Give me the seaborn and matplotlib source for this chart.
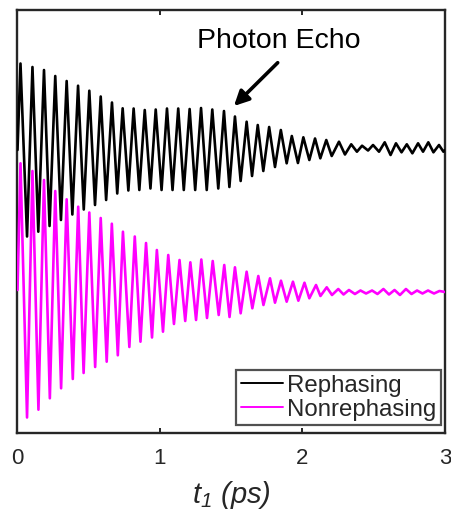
import matplotlib
matplotlib.use("Agg")
import matplotlib.pyplot as plt
import seaborn as sns
import pandas as pd

# Turning points of each trace: delay t1 (ps) and signal (arb. units)
reph_t = [0.000, 0.021, 0.067, 0.105, 0.146, 0.186, 0.225, 0.265, 0.305, 0.345,
          0.385, 0.425, 0.465, 0.504, 0.544, 0.584, 0.622, 0.663, 0.700, 0.738,
          0.778, 0.815, 0.855, 0.893, 0.933, 0.970, 1.011, 1.049, 1.088, 1.128,
          1.167, 1.208, 1.247, 1.288, 1.328, 1.367, 1.409, 1.449, 1.487, 1.526,
          1.566, 1.608, 1.646, 1.686, 1.725, 1.766, 1.807, 1.848, 1.889, 1.925,
          1.968, 2.006, 2.048, 2.088, 2.125, 2.167, 2.205, 2.256, 2.298, 2.342,
          2.382, 2.418, 2.460, 2.495, 2.537, 2.577, 2.618, 2.656, 2.695, 2.732,
          2.771, 2.811, 2.846, 2.883, 2.919, 2.958, 2.989, 3.000]
reph_s = [0.00, 0.865, -0.865, 0.83, -0.817, 0.80, -0.76, 0.74, -0.70, 0.69,
          -0.645, 0.643, -0.595, 0.593, -0.55, 0.535, -0.50, 0.475, -0.435, 0.417,
          -0.405, 0.415, -0.40, 0.40, -0.385, 0.405, -0.40, 0.415, -0.40, 0.415,
          -0.40, 0.41, -0.40, 0.42, -0.40, 0.405, -0.385, 0.39, -0.37, 0.335,
          -0.31, 0.283, -0.26, 0.25, -0.21, 0.23, -0.17, 0.20, -0.133, 0.14,
          -0.13, 0.127, -0.10, 0.115, -0.083, 0.10, -0.06, 0.083, -0.045, 0.057,
          -0.017, 0.043, -0.005, 0.05, -0.017, 0.077, -0.05, 0.067, -0.023, 0.057,
          -0.033, 0.067, -0.017, 0.077, -0.023, 0.05, -0.017, 0.00]

nonreph_t = [0.000, 0.021, 0.067, 0.105, 0.147, 0.186, 0.227, 0.265, 0.306, 0.345,
             0.388, 0.426, 0.464, 0.504, 0.545, 0.584, 0.626, 0.662, 0.704, 0.740,
             0.785, 0.823, 0.863, 0.902, 0.944, 0.978, 1.021, 1.058, 1.098, 1.137,
             1.177, 1.213, 1.253, 1.290, 1.330, 1.370, 1.412, 1.451, 1.488, 1.526,
             1.566, 1.608, 1.648, 1.690, 1.726, 1.772, 1.807, 1.849, 1.889, 1.933,
             1.971, 2.014, 2.048, 2.095, 2.126, 2.170, 2.207, 2.251, 2.288, 2.326,
             2.368, 2.407, 2.446, 2.488, 2.526, 2.568, 2.607, 2.646, 2.684, 2.726,
             2.765, 2.804, 2.842, 2.881, 2.923, 2.961, 3.000]
nonreph_s = [0.02, 1.287, -1.255, 1.21, -1.177, 1.12, -1.063, 1.01, -0.963, 0.927,
             -0.87, 0.853, -0.81, 0.795, -0.75, 0.74, -0.697, 0.683, -0.633, 0.603,
             -0.55, 0.555, -0.497, 0.49, -0.455, 0.42, -0.397, 0.37, -0.32, 0.32,
             -0.29, 0.297, -0.28, 0.325, -0.26, 0.31, -0.23, 0.27, -0.25, 0.247,
             -0.213, 0.203, -0.163, 0.16, -0.13, 0.137, -0.107, 0.113, -0.097, 0.103,
             -0.087, 0.093, -0.063, 0.07, -0.04, 0.047, -0.03, 0.03, -0.025, 0.02,
             -0.02, 0.015, -0.015, 0.015, -0.02, 0.03, -0.025, 0.02, -0.03, 0.03,
             -0.02, 0.015, -0.015, 0.015, -0.015, 0.01, 0.00]

series_names = ["Rephasing", "Nonrephasing"]
x_ticks = [0, 1, 2, 3]

# vertical stacking of the two traces
offsets = {"Rephasing": 0.0, "Nonrephasing": -1.42}

sns.set_theme(style="white")
plt.rcParams["font.family"] = ["Liberation Sans", "DejaVu Sans"]
plt.rcParams["mathtext.fontset"] = "custom"
plt.rcParams["mathtext.it"] = "Liberation Sans:italic"
plt.rcParams["mathtext.rm"] = "Liberation Sans:italic"

frames = []
for name, t, s in [(series_names[0], reph_t, reph_s),
                   (series_names[1], nonreph_t, nonreph_s)]:
    d = pd.DataFrame({"t": t, "s": s})
    d["y"] = d["s"] + offsets[name]
    d["trace"] = name
    frames.append(d)
df = pd.concat(frames, ignore_index=True)

fig = plt.figure(figsize=(4.52, 5.14), dpi=100)
ax = fig.add_axes([0.0387, 0.1576, 0.9458, 0.8239])

sns.lineplot(data=df, x="t", y="y", hue="trace", hue_order=series_names,
             palette=["black", "#FF00FF"], sort=False, estimator=None,
             linewidth=1.9, ax=ax, zorder=3)

ax.set_xlim(0, 3)
ax.set_ylim(-2.83, 1.405)
ax.set_xticks(x_ticks)
ax.set_xticklabels([str(v) for v in x_ticks])
ax.set_yticks([])
ax.set_ylabel("")
ax.tick_params(axis="x", direction="in", length=3.6, width=1.4, top=True,
               bottom=True, labelsize=16, pad=11, colors="#262626",
               labelcolor="#262626")
for sp in ax.spines.values():
    sp.set_visible(True)
    sp.set_linewidth(1.7)
    sp.set_color("#262626")

ax.set_xlabel(r"$\mathit{t}_{\mathit{1}}$ (ps)", fontsize=21,
              fontstyle="italic", labelpad=7, color="#262626")

leg = ax.legend(loc="lower right", bbox_to_anchor=(0.9906, 0.0189),
                borderaxespad=0, frameon=True, fancybox=False,
                fontsize=17.3, handlelength=1.75, handletextpad=0.2,
                labelspacing=0.08, borderpad=0.18)
leg.get_frame().set_edgecolor("#262626")
leg.get_frame().set_linewidth(1.6)
for line in leg.get_lines():
    line.set_linewidth(1.4)

ax.annotate("Photon Echo", xy=(1.26, 1.023), xycoords="data",
            ha="left", va="baseline", fontsize=20.5, color="black")
ax.annotate("", xy=(1.519, 0.44), xytext=(1.826, 0.873),
            arrowprops=dict(arrowstyle="-|>", lw=2.6, color="black",
                            mutation_scale=22, shrinkA=0, shrinkB=0))

fig.savefig("out.png", dpi=100)
